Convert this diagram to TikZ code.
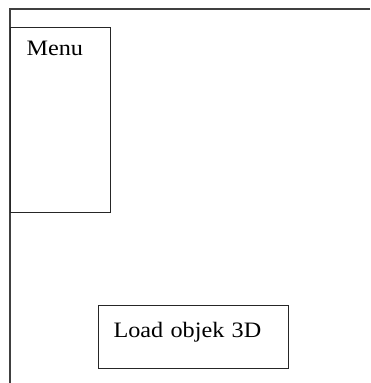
\documentclass[tikz,border=0pt]{standalone}
\usepackage{fontspec}
\setmainfont[FakeStretch=1.1]{Liberation Serif}
\begin{document}
\begin{tikzpicture}[x=1pt,y=-1pt,
  frame/.style={draw=black!75,line width=1.2pt},
  box/.style={draw=black!85,line width=1.1pt,inner ysep=0pt,align=left,text=black,font=\fontsize{22}{24}\selectfont}]
\useasboundingbox (0,0) rectangle (370,383);
\coordinate (tr) at (370,9);
\coordinate (tl) at (10,9);
\coordinate (bl) at (10,383);
\draw[frame] (tr) -- (tl) -- (bl);
\node[box,anchor=north west,inner xsep=16pt,text width=68pt,text height=28pt,text depth=157pt] (menu) at (10,27) {Menu};
\node[box,anchor=north west,inner xsep=15pt,text width=160pt,text height=32pt,text depth=31pt] (load) at (98,305) {Load objek 3D};
\end{tikzpicture}
\end{document}
